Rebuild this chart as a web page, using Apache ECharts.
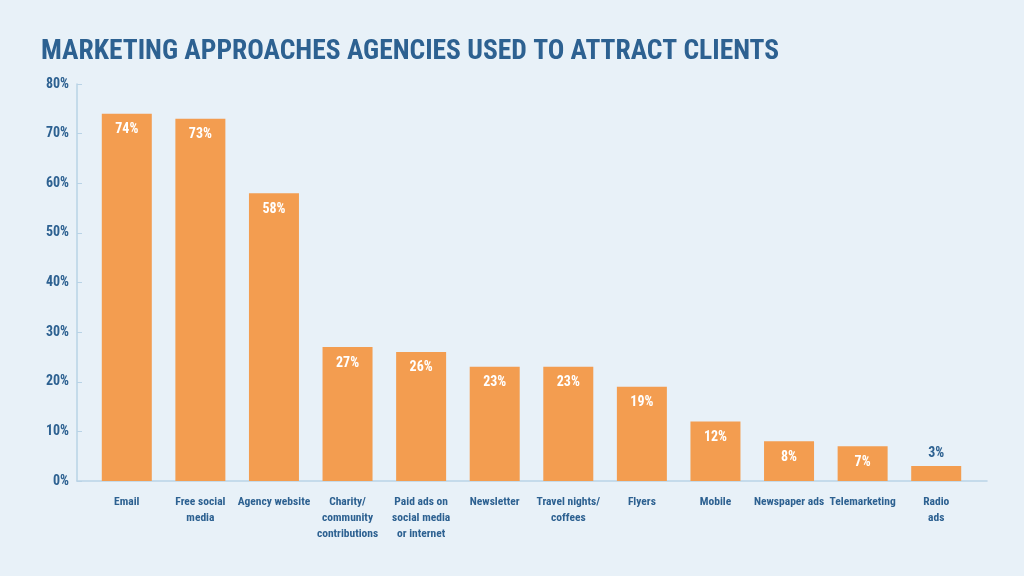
<!DOCTYPE html>
<html><head><meta charset="utf-8">
<script src="https://cdn.jsdelivr.net/npm/echarts@6/dist/echarts.min.js"></script>
<style>html,body{margin:0;padding:0;background:#e8f1f8}#c{width:1024px;height:576px}</style>
</head><body><div id="c"></div>
<script>
const titleText = 'MARKETING APPROACHES AGENCIES USED TO ATTRACT CLIENTS';
const categories = ['Email','Free social\nmedia','Agency website','Charity/\ncommunity\ncontributions','Paid ads on\nsocial media\nor internet','Newsletter','Travel nights/\ncoffees','Flyers','Mobile','Newspaper ads','Telemarketing','Radio\nads'];
const values = [74,73,58,27,26,23,23,19,12,8,7,3];
const yTicks = [0,10,20,30,40,50,60,70,80];

const blue = '#2d6191';
const orange = '#f39d50';
const axisCol = '#b9d3e6';
const font = '"Roboto Condensed",Roboto,sans-serif';

const chart = echarts.init(document.getElementById('c'));
chart.setOption({
  backgroundColor: '#e8f1f8',
  animation: false,
  title: {
    text: titleText, left: 36, top: 33,
    textStyle: {color: blue, fontFamily: font, fontWeight: 'bold', fontSize: 27.5}
  },
  grid: [
    {left: 90, right: 51, top: 84, bottom: 95},
    {left: 77, right: 37, top: 84, bottom: 95}
  ],
  xAxis: [
    {type: 'category', data: categories, gridIndex: 0,
     axisLine: {show: false}, axisTick: {show: false},
     axisLabel: {interval: 0, margin: 13, color: blue, fontFamily: font, fontWeight: 'bold', fontSize: 11.5, lineHeight: 16}},
    {type: 'value', gridIndex: 1, min: 0, max: 1, show: true,
     axisLine: {show: true, lineStyle: {color: axisCol, width: 1.5}},
     axisTick: {show: false}, axisLabel: {show: false}, splitLine: {show: false}}
  ],
  yAxis: [
    {type: 'value', gridIndex: 0, min: 0, max: 80, interval: 10, offset: 13,
     axisLine: {show: true, lineStyle: {color: axisCol, width: 1.5}},
     axisTick: {show: true, inside: true, length: 5, lineStyle: {color: axisCol}},
     splitLine: {show: false},
     axisLabel: {formatter: v => yTicks.includes(v) ? v + '%' : '', margin: 8, color: blue, fontFamily: font, fontWeight: 'bold', fontSize: 14}},
    {type: 'value', gridIndex: 1, show: false, min: 0, max: 1}
  ],
  series: [{
    type: 'bar', xAxisIndex: 0, yAxisIndex: 0,
    barWidth: 50,
    itemStyle: {color: orange},
    data: values.map(v => ({
      value: v,
      label: v < 5 ? {position: 'top', distance: 6, color: blue} : {}
    })),
    label: {show: true, position: 'insideTop', distance: 9, formatter: '{c}%',
      color: '#ffffff', fontFamily: font, fontWeight: 'bold', fontSize: 14}
  }]
});
</script></body></html>
